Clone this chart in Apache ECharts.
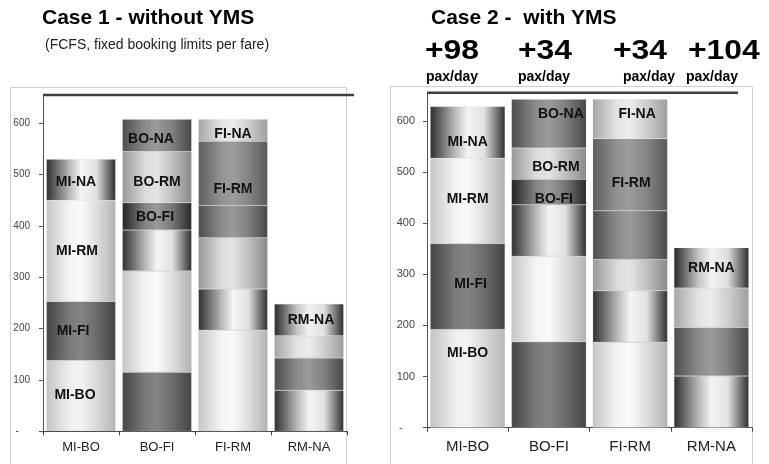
<!DOCTYPE html>
<html>
<head>
<meta charset="utf-8">
<script src="https://cdn.jsdelivr.net/npm/echarts@6/dist/echarts.min.js"></script>
<style>
  html, body { margin: 0; padding: 0; background: #fff; }
  #chart { width: 769px; height: 464px; }
</style>
</head>
<body>
<div id="chart"></div>
<script>
// Network: MI - BO - FI - RM - NA, one bar per leg, stacked by O&D flow (pax/day)
const stations = ['MI', 'BO', 'FI', 'RM', 'NA'];
const legs = ['MI-BO', 'BO-FI', 'FI-RM', 'RM-NA'];
const odPairs = ['MI-BO', 'MI-FI', 'MI-RM', 'MI-NA', 'BO-FI', 'BO-RM', 'BO-NA', 'FI-RM', 'FI-NA', 'RM-NA'];
const paxCase1 = [138, 115, 197, 80, 53, 100, 63, 125, 43, 62];
const paxCase2 = [192, 168, 167, 101, 50, 61, 95, 141, 77, 79];
const yTickValues = [0, 100, 200, 300, 400, 500, 600];
const capacity = 655;

// Cylinder-like shading for each O&D flow
const odShades = {
  'MI-BO': ['#c4c4c4', '#eeeeee', '#f3f3f3', '#dadada', '#b6b6b6'],
  'MI-FI': ['#444444', '#7a7a7a', '#848484', '#6c6c6c', '#444444'],
  'MI-RM': ['#c6c6c6', '#f4f4f4', '#fafafa', '#dedede', '#b2b2b2'],
  'MI-NA': ['#2e2e2e', '#b8b8b8', '#f4f4f4', '#e2e2e2', '#2e2e2e'],
  'BO-FI': ['#222222', '#858585', '#9a9a9a', '#777777', '#282828'],
  'BO-RM': ['#979797', '#dcdcdc', '#e4e4e4', '#c0c0c0', '#888888'],
  'BO-NA': ['#4c4c4c', '#8c8c8c', '#9a9a9a', '#808080', '#484848'],
  'FI-RM': ['#5e5e5e', '#939393', '#9c9c9c', '#858585', '#595959'],
  'FI-NA': ['#a6a6a6', '#e4e4e4', '#ececec', '#cecece', '#9e9e9e'],
  'RM-NA': ['#2a2a2a', '#c6c6c6', '#f2f2f2', '#dedede', '#2e2e2e']
};
const shadeStops = [0, 0.33, 0.5, 0.72, 1];

// Label nudges [dx, dy] per panel
const labelNudge = [
  { 'MI-BO': [-6, -1], 'MI-FI': [-8, 0], 'MI-RM': [-4, 0], 'MI-NA': [-5, 2],
    'BO-FI': [-2, 1], 'BO-RM': [0, 5], 'BO-NA': [-6, 4],
    'FI-RM': [0, 16], 'FI-NA': [0, 4], 'RM-NA': [2, 0] },
  { 'MI-BO': [0, -25], 'MI-FI': [3, -2], 'MI-RM': [0, -2], 'MI-NA': [0, 10],
    'BO-FI': [5, 7], 'BO-RM': [7, 4], 'BO-NA': [12, -10],
    'FI-RM': [1, 8], 'FI-NA': [7, -5], 'RM-NA': [0, 0] }
];

function odSpan(od) {
  const [o, d] = od.split('-');
  return [stations.indexOf(o), stations.indexOf(d)];
}

function legTotals(pax) {
  return legs.map((_, j) => odPairs.reduce((s, od, i) => {
    const [o, d] = odSpan(od);
    return s + (o <= j && j < d ? pax[i] : 0);
  }, 0));
}

function buildSeries(pax, panel) {
  return odPairs.map((od, i) => {
    const [o, d] = odSpan(od);
    const shade = odShades[od];
    const data = legs.map((_, j) => {
      if (!(o <= j && j < d)) return '-';
      if (j === o) {
        return { value: pax[i], label: { show: true, offset: labelNudge[panel][od] } };
      }
      return pax[i];
    });
    return {
      type: 'bar',
      name: od,
      stack: 'legs' + panel,
      xAxisIndex: panel,
      yAxisIndex: panel,
      barCategoryGap: panel === 0 ? '9%' : '8%',
      data: data,
      itemStyle: {
        color: {
          type: 'linear', x: 0, y: 0, x2: 1, y2: 0,
          colorStops: shadeStops.map((s, k) => ({ offset: s, color: shade[k] }))
        },
        borderColor: 'rgba(190,190,190,0.35)',
        borderWidth: 0.5
      },
      label: {
        show: false,
        position: 'inside',
        formatter: '{a}',
        fontFamily: '"Liberation Sans", Arial, sans-serif',
        fontWeight: 'bold',
        fontSize: 14,
        color: '#111'
      },
      emphasis: { disabled: true },
      silent: true
    };
  });
}

const fontFam = '"Liberation Sans", Arial, sans-serif';

function yAxisFor(panel) {
  return {
    type: 'value',
    gridIndex: panel,
    min: 0,
    max: capacity,
    interval: 100,
    splitLine: { show: false },
    axisLine: { show: true, lineStyle: { color: '#555', width: 1 } },
    axisTick: { show: true, length: 4, customValues: yTickValues, lineStyle: { color: '#555' } },
    axisLabel: {
      customValues: yTickValues,
      margin: panel === 0 ? 13 : 12,
      fontFamily: fontFam,
      fontSize: panel === 0 ? 10 : 11,
      color: '#444',
      formatter: v => (yTickValues.indexOf(v) < 0 ? '' : (v === 0 ? '-    ' : String(v)))
    }
  };
}

function xAxisFor(panel) {
  return {
    type: 'category',
    gridIndex: panel,
    data: legs,
    axisLine: { show: true, lineStyle: { color: '#444', width: 1 } },
    axisTick: { show: true, length: 4, lineStyle: { color: '#444' } },
    axisLabel: {
      margin: panel === 0 ? 10 : 12,
      fontFamily: fontFam,
      fontSize: panel === 0 ? 13 : 15,
      color: '#222'
    }
  };
}

const chart = echarts.init(document.getElementById('chart'), null, { renderer: 'canvas' });

const totals1 = legTotals(paxCase1);
const totals2 = legTotals(paxCase2);
const gains = totals2.map((t, j) => t - totals1[j]);

const gainX = [425, 518, 613, 688];
const paxDayX = [426, 518, 623, 686];

function headerGraphics() {
  const g = [
    { type: 'rect', z: 0, silent: true, shape: { x: 10.5, y: 87.5, width: 336, height: 420 },
      style: { fill: 'none', stroke: '#cfcfcf', lineWidth: 1 } },
    { type: 'rect', z: 0, silent: true, shape: { x: 390.5, y: 86.5, width: 362, height: 420 },
      style: { fill: 'none', stroke: '#cfcfcf', lineWidth: 1 } },
    { type: 'text', x: 42, y: 18, silent: true,
      style: { text: 'Case 1 - without YMS', fontFamily: fontFam, fontWeight: 'bold', fontSize: 21,
               fill: '#000', align: 'left', verticalAlign: 'middle' } },
    { type: 'text', x: 45, y: 45.5, silent: true,
      style: { text: '(FCFS, fixed booking limits per fare)', fontFamily: fontFam, fontSize: 14,
               fill: '#222', align: 'left', verticalAlign: 'middle' } },
    { type: 'text', x: 431, y: 18.5, silent: true,
      style: { text: 'Case 2 -  with YMS', fontFamily: fontFam, fontWeight: 'bold', fontSize: 21,
               fill: '#000', align: 'left', verticalAlign: 'middle' } }
  ];
  gains.forEach((v, j) => {
    g.push({ type: 'text', x: gainX[j], y: 52, scaleX: 1.18, silent: true,
      style: { text: '+' + v, fontFamily: fontFam, fontWeight: 'bold', fontSize: 27,
               fill: '#000', align: 'left', verticalAlign: 'middle' } });
    g.push({ type: 'text', x: paxDayX[j], y: 77, silent: true,
      style: { text: 'pax/day', fontFamily: fontFam, fontWeight: 'bold', fontSize: 14,
               fill: '#000', align: 'left', verticalAlign: 'middle' } });
  });
  return g;
}

chart.setOption({
  animation: false,
  backgroundColor: '#fff',
  grid: [
    { left: 43, top: 95, width: 304, height: 336.3 },
    { left: 427, top: 92.7, width: 325, height: 335 }
  ],
  xAxis: [xAxisFor(0), xAxisFor(1)],
  yAxis: [yAxisFor(0), yAxisFor(1)],
  series: buildSeries(paxCase1, 0).concat(buildSeries(paxCase2, 1)),
  graphic: headerGraphics()
});

// Capacity line drawn across the top of each panel
const capY0 = chart.convertToPixel({ yAxisIndex: 0 }, capacity);
const capY1 = chart.convertToPixel({ yAxisIndex: 1 }, capacity);
const x0 = chart.convertToPixel({ xAxisIndex: 0 }, legs[0]) - 304 / 8;
const x1 = chart.convertToPixel({ xAxisIndex: 1 }, legs[0]) - 325 / 8;
chart.setOption({
  graphic: headerGraphics().concat([
    { type: 'line', z: 10, silent: true, shape: { x1: x0, y1: capY0, x2: 354, y2: capY0 },
      style: { stroke: '#404040', lineWidth: 2.6 } },
    { type: 'line', z: 10, silent: true, shape: { x1: x1, y1: capY1, x2: 738, y2: capY1 },
      style: { stroke: '#404040', lineWidth: 2.6 } }
  ])
});
</script>
</body>
</html>
